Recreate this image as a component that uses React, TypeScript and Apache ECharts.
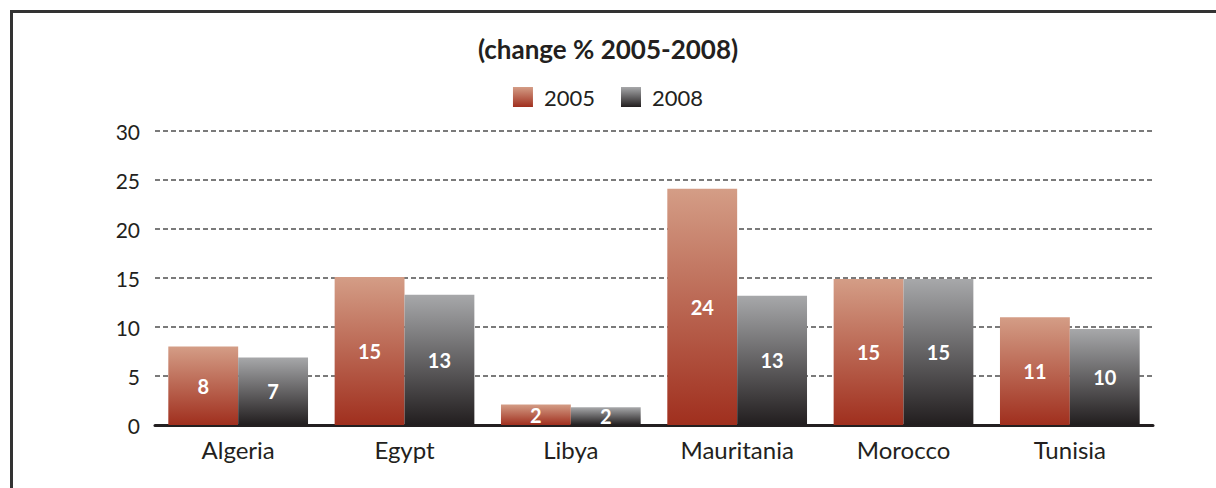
import React, { useEffect, useRef } from "react";
import * as echarts from "echarts";

const categories = ["Algeria", "Egypt", "Libya", "Mauritania", "Morocco", "Tunisia"];
const values2005 = [8.0, 15.1, 2.1, 24.1, 14.9, 11.0];
const values2008 = [6.9, 13.3, 1.8, 13.2, 14.9, 9.8];
const seriesNames = ["2005", "2008"];
const titleText = "(change % 2005-2008)";

const FONT = "Lato, 'Open Sans', sans-serif";

export default function App() {
  const ref = useRef<HTMLDivElement>(null);
  useEffect(() => {
    document.body.style.margin = "0";
    const chart = echarts.init(ref.current!, null, { renderer: "svg" });
    const grad2005 = new echarts.graphic.LinearGradient(0, 0, 0, 1, [
      { offset: 0, color: "#d49d86" },
      { offset: 1, color: "#a02f1e" },
    ]);
    const grad2008 = new echarts.graphic.LinearGradient(0, 0, 0, 1, [
      { offset: 0, color: "#a7a8aa" },
      { offset: 1, color: "#221e1f" },
    ]);
    const label = {
      show: true,
      position: "inside" as const,
      color: "#ffffff",
      fontWeight: "bold" as const,
      fontSize: 20,
      fontFamily: FONT,
      formatter: (p: any) => String(Math.round(p.value)),
    };
    chart.setOption({
      animation: false,
      backgroundColor: "#ffffff",
      title: {
        text: titleText,
        left: "center",
        top: 31,
        textStyle: { fontFamily: FONT, fontWeight: "bold", fontSize: 26, color: "#231f20" },
      },
      legend: {
        data: seriesNames,
        icon: "rect",
        top: 81,
        left: "center",
        itemWidth: 20,
        itemHeight: 20,
        itemGap: 26,
        textStyle: { fontFamily: FONT, fontSize: 22, color: "#231f20", padding: [0, 0, 0, 6] },
      },
      grid: { left: 155, right: 63, top: 131, bottom: 63, containLabel: false },
      xAxis: {
        type: "category",
        data: categories,
        axisLine: { show: true, lineStyle: { color: "#231f20", width: 3 } },
        axisTick: { show: false },
        axisLabel: { fontFamily: FONT, fontSize: 24, color: "#231f20", margin: 12 },
      },
      yAxis: {
        type: "value",
        min: 0,
        max: 30,
        interval: 5,
        axisLine: { show: false },
        axisTick: { show: false },
        axisLabel: { fontFamily: FONT, fontSize: 21, color: "#231f20", margin: 15 },
        splitLine: { show: true, lineStyle: { color: "#7a7a7a", width: 2, type: [5, 3] } },
      },
      series: [
        {
          name: seriesNames[0],
          type: "bar",
          data: values2005,
          barGap: "0%",
          barCategoryGap: "16%",
          itemStyle: { color: grad2005 },
          label,
        },
        {
          name: seriesNames[1],
          type: "bar",
          data: values2008,
          barGap: "0%",
          barCategoryGap: "16%",
          itemStyle: { color: grad2008 },
          label,
        },
      ],
      graphic: [
        { type: "line", shape: { x1: 10, y1: 11.5, x2: 1216, y2: 11.5 }, style: { stroke: "#333333", lineWidth: 3 } },
        { type: "line", shape: { x1: 11.5, y1: 10, x2: 11.5, y2: 488 }, style: { stroke: "#333333", lineWidth: 3 } },
      ],
    });
    return () => chart.dispose();
  }, []);
  return <div ref={ref} style={{ width: 1216, height: 488, position: "absolute", left: 0, top: 0 }} />;
}
